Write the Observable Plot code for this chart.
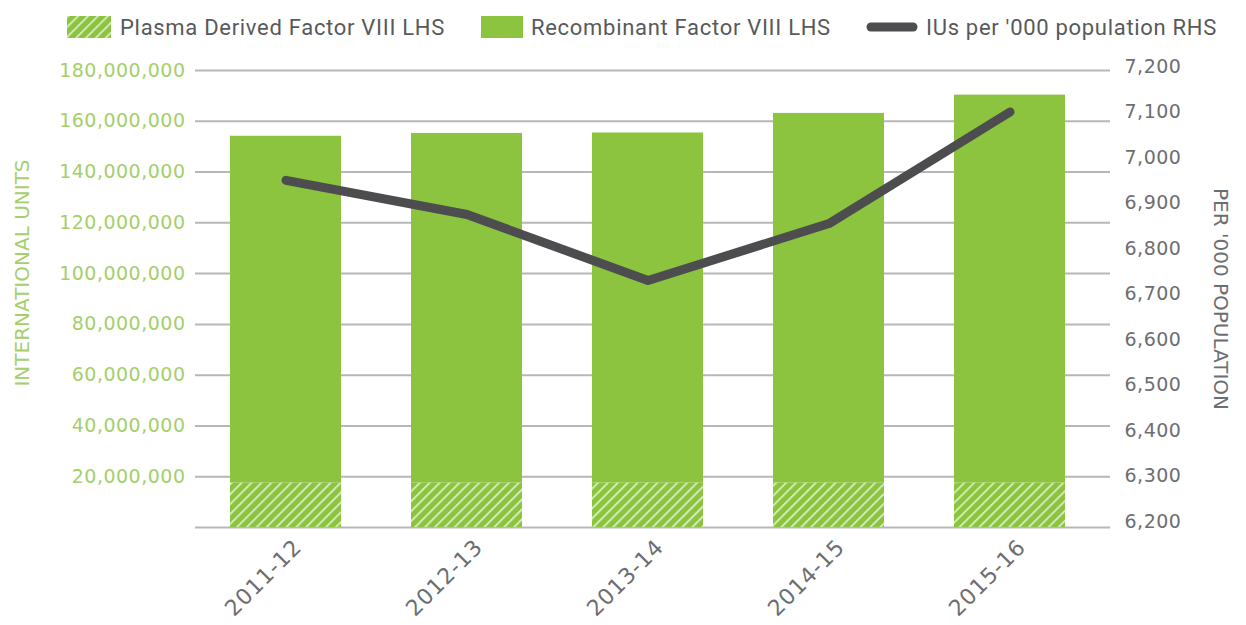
<!DOCTYPE html>
<html>
<head>
<meta charset="utf-8">
<script src="https://cdn.jsdelivr.net/npm/d3@7"></script>
<script src="https://cdn.jsdelivr.net/npm/@observablehq/plot@0.6"></script>
<style>
  html, body { margin: 0; padding: 0; background: #fff; width: 1246px; height: 625px; overflow: hidden; }
  #legend { position: relative; height: 50px; font-family: Roboto, sans-serif; font-size: 22px; letter-spacing: 0.7px; color: #58595b; }
  #legend .item { position: absolute; top: 2px; height: 50px; display: flex; align-items: center; }
  #legend .sw { display: inline-block; line-height: 0; }
  #chart svg { display: block; }
</style>
</head>
<body>
<div id="legend"></div>
<div id="chart"></div>
<script>
// ---- data ----
const years = ["2011-12", "2012-13", "2013-14", "2014-15", "2015-16"];
const plasmaIU = [17500000, 17500000, 17500000, 17500000, 17500000];
const recombinantIU = [136600000, 137700000, 137900000, 145600000, 152800000];
const iuPer000 = [6950, 6875, 6730, 6855, 7100];
const leftTicks = [20000000, 40000000, 60000000, 80000000, 100000000, 120000000, 140000000, 160000000, 180000000];
const gridValues = [0, 20000000, 40000000, 60000000, 80000000, 100000000, 120000000, 140000000, 160000000, 180000000];
const rightTicks = [6200, 6300, 6400, 6500, 6600, 6700, 6800, 6900, 7000, 7100, 7200];
const legendLabels = ["Plasma Derived Factor VIII LHS", "Recombinant Factor VIII LHS", "IUs per '000 population RHS"];

// ---- styling ----
const GREEN = "#8cc43f";
const HATCH_LINE = "#dcf0c4";
const LINE = "#4d4d4f";
const GREEN_TEXT = "#a4cf6a";
const GRAY_TEXT = "#6d6e71";

// right axis (6,200–7,200) mapped onto the left scale
const R0 = 6200, R1 = 7200, L0 = 2200000, L1 = 181600000;
const toLeft = v => L0 + (v - R0) / (R1 - R0) * (L1 - L0);
const fromLeft = l => R0 + (l - L0) / (L1 - L0) * (R1 - R0);

const rows = years.map((y, i) => ({
  year: y,
  p0: 0, p1: plasmaIU[i],
  r0: plasmaIU[i], r1: plasmaIU[i] + recombinantIU[i],
  rate: toLeft(iuPer000[i])
}));

const fmt = d3.format(",");

const plot = Plot.plot({
  width: 1246,
  height: 575,
  marginTop: 20,
  marginBottom: 98,
  marginLeft: 195,
  marginRight: 136,
  style: { fontFamily: "'DejaVu Sans', sans-serif", background: "#fff" },
  x: { domain: years, paddingInner: 0.387, paddingOuter: 0.193, insetRight: 10, label: null },
  y: { domain: [0, 180000000], nice: false, label: null },
  marks: [
    Plot.ruleY(gridValues, { stroke: "#b7b7b9", strokeWidth: 2 }),
    Plot.barY(rows, { x: "year", y1: "p0", y2: "p1", fill: "url(#hatchFill)" }),
    Plot.barY(rows, { x: "year", y1: "r0", y2: "r1", fill: GREEN }),
    Plot.line(rows, { x: "year", y: "rate", stroke: LINE, strokeWidth: 9, strokeLinecap: "round", strokeLinejoin: "round" }),
    Plot.axisY({ ticks: leftTicks, tickFormat: fmt, tickSize: 0, tickPadding: 10, anchor: "left", fontSize: 19, color: GREEN_TEXT, label: null }),
    Plot.axisY({ ticks: rightTicks.map(toLeft), tickFormat: l => fmt(Math.round(fromLeft(l))), tickSize: 0, tickPadding: 14, anchor: "right", fontSize: 19, color: GRAY_TEXT, label: null }),
    Plot.axisX({ tickRotate: -45, tickSize: 0, tickPadding: 16, dx: 12, fontSize: 22, color: GRAY_TEXT, label: null }),
    Plot.text(["INTERNATIONAL UNITS"], { frameAnchor: "left", textAnchor: "middle", rotate: -90, dx: -173, dy: -26, fill: GREEN_TEXT, fontSize: 20 }),
    Plot.text(["PER '000 POPULATION"], { frameAnchor: "right", textAnchor: "middle", rotate: 90, dx: 110, fill: GRAY_TEXT, fontSize: 20 })
  ]
});

// hatch pattern definition
const defs = d3.select(plot).insert("defs", ":first-child");
const pat = defs.append("pattern")
  .attr("id", "hatchFill").attr("patternUnits", "userSpaceOnUse")
  .attr("width", 7).attr("height", 7).attr("patternTransform", "rotate(45)");
pat.append("rect").attr("width", 7).attr("height", 7).attr("fill", GREEN);
pat.append("line").attr("x1", 0).attr("y1", 0).attr("x2", 0).attr("y2", 7)
  .attr("stroke", HATCH_LINE).attr("stroke-width", 3.4);

// letter spacing on tick labels
d3.select(plot).selectAll("[aria-label='x-axis tick label'] text").attr("letter-spacing", "0.8px");
d3.select(plot).selectAll("[aria-label='y-axis tick label'] text").attr("letter-spacing", "0.5px");

document.getElementById("chart").appendChild(plot);

// legend
const legend = document.getElementById("legend");
const items = [
  { left: 67, sw: `<svg width="44" height="22"><defs><pattern id="lh" patternUnits="userSpaceOnUse" width="7" height="7" patternTransform="rotate(45)"><rect width="7" height="7" fill="${GREEN}"/><line x1="0" y1="0" x2="0" y2="7" stroke="${HATCH_LINE}" stroke-width="3.4"/></pattern></defs><rect width="44" height="22" fill="url(#lh)"/></svg>`, gap: 9 },
  { left: 481, sw: `<svg width="42" height="22"><rect width="42" height="22" fill="${GREEN}"/></svg>`, gap: 8 },
  { left: 866, sw: `<svg width="52" height="22"><line x1="5" y1="11" x2="47" y2="11" stroke="${LINE}" stroke-width="9" stroke-linecap="round"/></svg>`, gap: 8 }
];
items.forEach((it, i) => {
  const d = document.createElement("div");
  d.className = "item";
  d.style.left = it.left + "px";
  d.innerHTML = `<span class="sw">${it.sw}</span><span style="margin-left:${it.gap}px">${legendLabels[i]}</span>`;
  legend.appendChild(d);
});
</script>
</body>
</html>
